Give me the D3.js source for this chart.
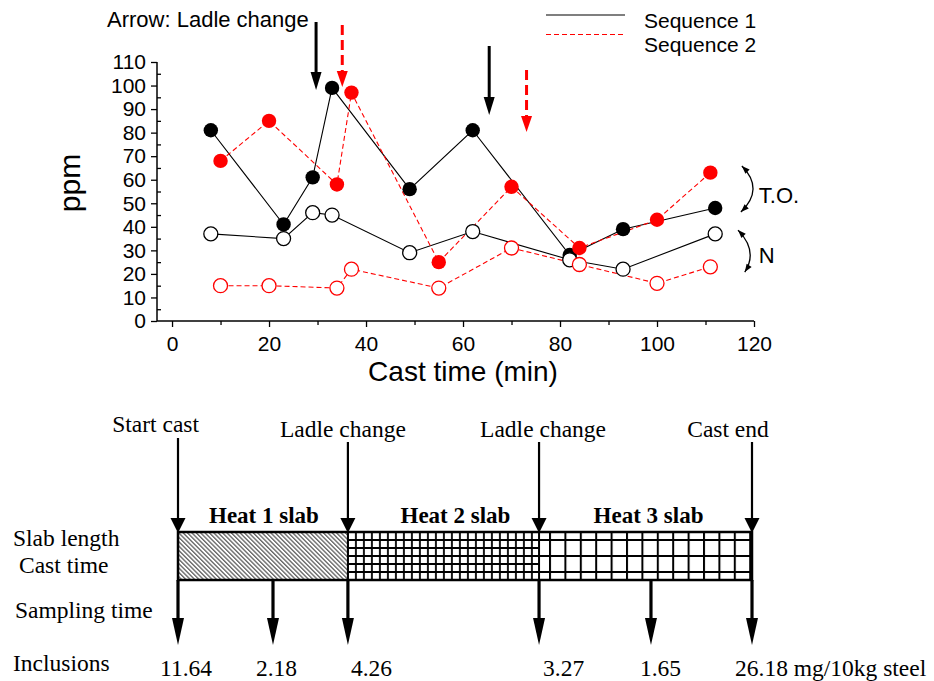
<!DOCTYPE html>
<html><head><meta charset="utf-8">
<script src="https://cdn.jsdelivr.net/npm/d3@7"></script>
<style>body{margin:0;background:#fff} svg{display:block}</style>
</head><body>
<svg id="c" width="934" height="681"></svg>
<script>
// ---------- data (top chart) ----------
const timeSeq1 = [8, 23, 29, 33, 49, 62, 82, 93, 112];
const toSeq1   = [81, 41, 61, 99, 56, 81, 28, 39, 48];
const nSeq1    = [37, 35, 46, 45, 29, 38, 26, 22, 37];
const timeSeq2 = [10, 20, 34, 37, 55, 70, 84, 100, 111];
const toSeq2   = [68, 85, 58, 97, 25, 57, 31, 43, 63];
const nSeq2    = [15, 15, 14, 22, 14, 31, 24, 16, 23];
const seriesNames = ["Sequence 1", "Sequence 2"];
const xTicks = [0, 20, 40, 60, 80, 100, 120];
const xMinor = [10, 30, 50, 70, 90, 110];
const yTicks = [0, 10, 20, 30, 40, 50, 60, 70, 80, 90, 100, 110];
const yMinor = [5, 15, 25, 35, 45, 55, 65, 75, 85, 95, 105];
// ladle-change arrows (cast time, ppm top, ppm tip, sequence)
const ladleTime = [29.7, 35.1, 65.4, 73.1];
const ladleTop  = [127, 125.7, 116.8, 106.6];
const ladleTip  = [98.1, 99.4, 87.5, 80.3];
const ladleSeq  = [1, 2, 1, 2];

// ---------- data (bottom diagram) ----------
const eventLabels = ["Start cast", "Ladle change", "Ladle change", "Cast end"];
const eventPos = [0, 0.296, 0.629, 1];
const slabLabels = ["Heat 1 slab", "Heat 2 slab", "Heat 3 slab"];
const samplingPos = [0, 0.1655, 0.296, 0.629, 0.824, 1];
const inclusions = [11.64, 2.18, 4.26, 3.27, 1.65, 26.18];
const inclusionUnit = "mg/10kg steel";
const rowLabels = ["Slab length", "Cast time", "Sampling time", "Inclusions"];

const svg = d3.select("#c");
const SANS = "'Liberation Sans', Arial, sans-serif";
const SERIF = "'Liberation Serif', 'Times New Roman', serif";

// ---------- scales ----------
const x = d3.scaleLinear().domain([-3.1, 120]).range([157, 754]);
const y = d3.scaleLinear().domain([0, 110]).range([321, 62]);

// ---------- axes ----------
const gx = svg.append("g").attr("transform", `translate(0,${y(0)})`)
  .call(d3.axisBottom(x).tickValues(xTicks).tickSize(6).tickPadding(9).tickFormat(d3.format("d")));
gx.select(".domain").remove();
const gxm = svg.append("g").attr("transform", `translate(0,${y(0)})`)
  .call(d3.axisBottom(x).tickValues(xMinor).tickSize(4).tickFormat(""));
gxm.select(".domain").remove();
const gy = svg.append("g").attr("transform", `translate(${x.range()[0]},0)`)
  .call(d3.axisLeft(y).tickValues(yTicks).tickSize(6).tickPadding(5).tickFormat(d3.format("d")));
gy.select(".domain").remove();
const gym = svg.append("g").attr("transform", `translate(${x.range()[0]},0)`)
  .call(d3.axisLeft(y).tickValues(yMinor).tickSize(-4).tickFormat(""));
gym.select(".domain").remove();
svg.selectAll(".tick line").attr("stroke", "#000").attr("stroke-width", 1.3);
svg.selectAll(".tick text").attr("font-family", SANS).attr("font-size", 21).attr("fill", "#000");
svg.append("line").attr("x1", x.range()[0]).attr("x2", x(120)).attr("y1", y(0)).attr("y2", y(0))
  .attr("stroke", "#000").attr("stroke-width", 1.5);
svg.append("line").attr("x1", x.range()[0]).attr("x2", x.range()[0]).attr("y1", y(0)).attr("y2", y(110))
  .attr("stroke", "#000").attr("stroke-width", 1.5);

svg.append("text").attr("x", (x(0) + x(120)) / 2).attr("y", 381).attr("text-anchor", "middle")
  .attr("font-family", SANS).attr("font-size", 28).text("Cast time (min)");
svg.append("text").attr("transform", "translate(80,183) rotate(-90)").attr("text-anchor", "middle")
  .attr("font-family", SANS).attr("font-size", 30).text("ppm");

// ---------- series ----------
const series = [
  {t: timeSeq1, v: toSeq1, color: "#000", dash: null, filled: true},
  {t: timeSeq1, v: nSeq1, color: "#000", dash: null, filled: false},
  {t: timeSeq2, v: toSeq2, color: "#f00", dash: "5,3", filled: true},
  {t: timeSeq2, v: nSeq2, color: "#f00", dash: "5,3", filled: false}
];
const line = d3.line().x(d => x(d[0])).y(d => y(d[1]));
series.forEach(s => {
  const pts = s.t.map((t, i) => [t, s.v[i]]);
  svg.append("path").attr("d", line(pts)).attr("fill", "none")
    .attr("stroke", s.color).attr("stroke-width", 1.1)
    .attr("stroke-dasharray", s.dash);
});
series.forEach(s => {
  const pts = s.t.map((t, i) => [t, s.v[i]]);
  svg.selectAll(null).data(pts).enter().append("circle")
    .attr("cx", d => x(d[0])).attr("cy", d => y(d[1])).attr("r", s.filled ? 7.2 : 7)
    .attr("fill", s.filled ? s.color : "#fff")
    .attr("stroke", s.color).attr("stroke-width", s.filled ? 0 : 1.3);
});

// ---------- arrowhead helper ----------
function head(tx, ty, dx, dy, len, w) {
  const L = Math.hypot(dx, dy); dx /= L; dy /= L;
  const bx = tx - dx * len, by = ty - dy * len;
  const px = -dy * w / 2, py = dx * w / 2;
  return `${tx},${ty} ${bx + px},${by + py} ${bx - px},${by - py}`;
}

// ---------- ladle change arrows ----------
ladleTime.forEach((t, i) => {
  const red = ladleSeq[i] === 2;
  const col = red ? "#f00" : "#000";
  const X = x(t), y0 = y(ladleTop[i]), y1 = y(ladleTip[i]);
  const hl = red ? 16 : 18;
  svg.append("line").attr("x1", X).attr("x2", X).attr("y1", y0).attr("y2", y1 - hl + 2)
    .attr("stroke", col).attr("stroke-width", 3).attr("stroke-dasharray", red ? "10,5" : null);
  svg.append("polygon").attr("points", head(X, y1, 0, 1, hl, 11)).attr("fill", col);
});
svg.append("text").attr("x", 107).attr("y", 27).attr("font-family", SANS).attr("font-size", 22)
  .text("Arrow: Ladle change");

// ---------- legend ----------
const leg = [{c: "#000", d: null, y: 15, ty: 27.5}, {c: "#f00", d: "5,3", y: 34.5, ty: 51.5}];
leg.forEach((l, i) => {
  svg.append("line").attr("x1", 546).attr("x2", 625).attr("y1", l.y).attr("y2", l.y)
    .attr("stroke", l.c).attr("stroke-width", 1.2).attr("stroke-dasharray", l.d);
  svg.append("text").attr("x", 644).attr("y", l.ty).attr("font-family", SANS).attr("font-size", 21)
    .text(seriesNames[i]);
});

// ---------- T.O. / N curved double arrows ----------
const arcs = [
  {p0: [117.5, 65.8], c: [122.2, 56.1], p2: [117.3, 46.3], label: "T.O.", lt: [121, 50.1]},
  {p0: [116.7, 38.6], c: [120.9, 29.7], p2: [118.1, 20.8], label: "N", lt: [121, 24.6]}
];
arcs.forEach(a => {
  const P0 = [x(a.p0[0]), y(a.p0[1])], C = [x(a.c[0]), y(a.c[1])], P2 = [x(a.p2[0]), y(a.p2[1])];
  svg.append("path").attr("d", `M${P0}Q${C} ${P2}`).attr("fill", "none")
    .attr("stroke", "#000").attr("stroke-width", 1.3);
  svg.append("polygon").attr("points", head(P0[0], P0[1], P0[0] - C[0], P0[1] - C[1], 8, 6));
  svg.append("polygon").attr("points", head(P2[0], P2[1], P2[0] - C[0], P2[1] - C[1], 8, 6));
  svg.append("text").attr("x", x(a.lt[0])).attr("y", y(a.lt[1])).attr("font-family", SANS)
    .attr("font-size", 22).text(a.label);
});

// ---------- bottom diagram ----------
const d = d3.scaleLinear().domain([0, 1]).range([178, 752]);
const rTop = 532, rBot = 580;
const defs = svg.append("defs");
const p1 = defs.append("pattern").attr("id", "hatch").attr("patternUnits", "userSpaceOnUse")
  .attr("width", 3.1).attr("height", 10).attr("patternTransform", "rotate(-45)");
p1.append("rect").attr("width", 3.1).attr("height", 10).attr("fill", "#fff");
p1.append("line").attr("x1", 0.7).attr("x2", 0.7).attr("y1", 0).attr("y2", 10)
  .attr("stroke", "#444").attr("stroke-width", 1.1);
const p2 = defs.append("pattern").attr("id", "fine").attr("patternUnits", "userSpaceOnUse")
  .attr("x", d(eventPos[1]) - 1).attr("y", rTop - 1).attr("width", 8).attr("height", 8);
p2.append("rect").attr("width", 8).attr("height", 8).attr("fill", "#fff");
p2.append("path").attr("d", "M0,1H8M1,0V8").attr("stroke", "#000").attr("stroke-width", 1.8);
const p3 = defs.append("pattern").attr("id", "coarse").attr("patternUnits", "userSpaceOnUse")
  .attr("x", 549).attr("y", 539).attr("width", 15.4).attr("height", 16);
p3.append("rect").attr("width", 15.4).attr("height", 16).attr("fill", "#fff");
p3.append("path").attr("d", "M0,1H15.4M1,0V16").attr("stroke", "#000").attr("stroke-width", 2);
const fills = ["url(#hatch)", "url(#fine)", "url(#coarse)"];

slabLabels.forEach((s, i) => {
  const x0 = d(eventPos[i]), x1 = d(eventPos[i + 1]);
  svg.append("rect").attr("x", x0).attr("y", rTop).attr("width", x1 - x0).attr("height", rBot - rTop)
    .attr("fill", fills[i]);
});
svg.append("rect").attr("x", d(0)).attr("y", rTop).attr("width", d(1) - d(0)).attr("height", rBot - rTop)
  .attr("fill", "none").attr("stroke", "#000").attr("stroke-width", 2.5);
[1, 2].forEach(i => {
  svg.append("line").attr("x1", d(eventPos[i])).attr("x2", d(eventPos[i])).attr("y1", rTop).attr("y2", rBot)
    .attr("stroke", "#000").attr("stroke-width", 2);
});
const heatDx = [1, 12, 3];
slabLabels.forEach((s, i) => {
  svg.append("text").attr("x", (d(eventPos[i]) + d(eventPos[i + 1])) / 2 + heatDx[i]).attr("y", 523)
    .attr("text-anchor", "middle").attr("font-family", SERIF).attr("font-weight", "bold")
    .attr("font-size", 23).text(s);
});

// event arrows & labels
const evAnchor = ["end", "middle", "middle", "middle"];
const evDx = [21, -5, 4, -24];
const evY = [432, 437, 437, 437];
const evTop = [438, 442, 442, 442];
eventLabels.forEach((lab, i) => {
  const X = d(eventPos[i]);
  svg.append("line").attr("x1", X).attr("x2", X).attr("y1", evTop[i]).attr("y2", rTop - 12)
    .attr("stroke", "#000").attr("stroke-width", 2.2);
  svg.append("polygon").attr("points", head(X, rTop + 1, 0, 1, 15, 15)).attr("fill", "#000");
  svg.append("text").attr("x", X + evDx[i]).attr("y", evY[i]).attr("text-anchor", evAnchor[i])
    .attr("font-family", SERIF).attr("font-size", 23.5).text(lab);
});

// sampling arrows & inclusion values
const incDx = [-18, -17, 3, 4, -11, -17];
samplingPos.forEach((p, i) => {
  const X = d(p);
  svg.append("line").attr("x1", X).attr("x2", X).attr("y1", rBot).attr("y2", 622)
    .attr("stroke", "#000").attr("stroke-width", 3.2);
  svg.append("polygon").attr("points", head(X, 645, 0, 1, 27, 12)).attr("fill", "#000");
  svg.append("text").attr("x", X + incDx[i]).attr("y", 676).attr("font-family", SERIF).attr("font-size", 23.5)
    .text(d3.format(".2f")(inclusions[i]) + (i === inclusions.length - 1 ? " " + inclusionUnit : ""));
});

// row labels
const rowX = [13, 19, 15, 13], rowY = [546, 573, 618, 671];
rowLabels.forEach((r, i) => {
  svg.append("text").attr("x", rowX[i]).attr("y", rowY[i]).attr("font-family", SERIF)
    .attr("font-size", 23.5).text(r);
});
</script>
</body></html>
